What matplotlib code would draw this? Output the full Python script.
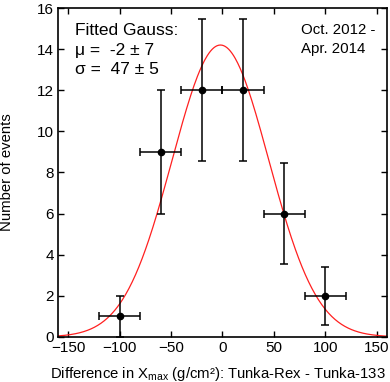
import numpy as np
import matplotlib
matplotlib.use("Agg")
import matplotlib.pyplot as plt

plt.rcParams['font.family'] = ['Liberation Sans', 'DejaVu Sans']
plt.rcParams['mathtext.fontset'] = 'custom'
plt.rcParams['mathtext.rm'] = 'Liberation Sans'

# data
x_centers = [-100, -60, -20, 20, 60, 100]
counts = [1, 9, 12, 12, 6, 2]
y_err = [1.0, 3.0, 3.46, 3.46, 2.45, 1.41]
x_err = [20, 20, 20, 20, 20, 20]

# fitted gauss parameters
fit_amp = 14.2
fit_mu = -2
fit_sigma = 47

xticks = [-150, -100, -50, 0, 50, 100, 150]
yticks = [0, 2, 4, 6, 8, 10, 12, 14, 16]

fig = plt.figure(figsize=(3.9, 3.82), dpi=100)
ax = fig.add_axes([0.149, 0.118, 0.843, 0.861])

xs = np.linspace(-160, 160, 400)
ax.plot(xs, fit_amp * np.exp(-(xs - fit_mu) ** 2 / (2 * fit_sigma ** 2)),
        color='#ff2020', lw=0.9, zorder=2)

ax.errorbar(x_centers, counts, xerr=x_err, yerr=y_err, fmt='o', color='black',
            ms=4.5, elinewidth=1.1, capsize=3, capthick=1.1, zorder=3)

ax.set_xlim(-160, 160)
ax.set_ylim(0, 16)
ax.set_xticks(xticks)
ax.set_yticks(yticks)
ax.tick_params(direction='in', top=True, right=True, length=4, width=1,
               labelsize=11, pad=3)
for s in ax.spines.values():
    s.set_linewidth(1.2)

ax.set_xlabel(r'Difference in X$_{\mathrm{max}}$ (g/cm²): Tunka-Rex - Tunka-133',
              fontsize=10.7)
ax.xaxis.set_label_coords(0.485, -0.085)
ax.set_ylabel('Number of events', fontsize=10.7)
ax.yaxis.set_label_coords(-0.135, 0.5)

ax.text(0.05, 0.955, 'Fitted Gauss:\nμ =  -2 ± 7\nσ =  47 ± 5', transform=ax.transAxes,
        ha='left', va='top', fontsize=12.5, linespacing=1.4)
ax.text(0.74, 0.955, 'Oct. 2012 -\nApr. 2014', transform=ax.transAxes,
        ha='left', va='top', fontsize=10.8, linespacing=1.45)

fig.savefig('out.png', dpi=100)
